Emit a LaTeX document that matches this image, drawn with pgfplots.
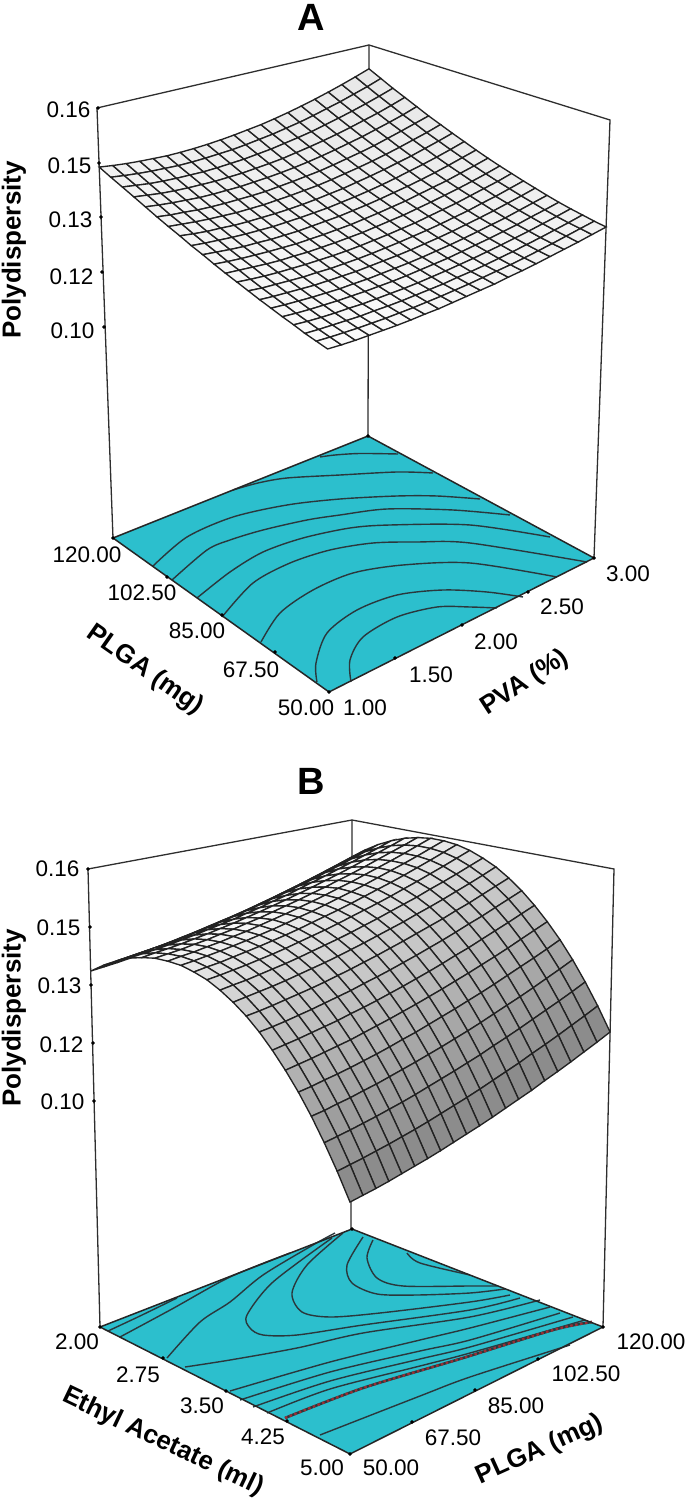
\documentclass[border=0pt]{standalone}
\usepackage{fontspec}
\setmainfont{Liberation Sans}
\usepackage{pgfplots}
\usepackage{pgfplotstable}
\pgfplotsset{compat=1.18}
\definecolor{basecyan}{HTML}{2CBFCD}
\definecolor{boxc}{HTML}{2E2E2E}
\definecolor{meshc}{HTML}{222222}
\definecolor{ctrc}{HTML}{2A383D}
\definecolor{redc}{HTML}{9A2F35}
% grid order: 21 rows of 21 values; row = PLGA 120 ... 50, column = second factor low ... high
\pgfplotstableread[row sep=\\]{pdi\\
.1442\\.1437\\.1433\\.1430\\.1428\\.1426\\.1426\\.1427\\.1429\\.1432\\.1436\\.1441\\.1446\\.1453\\.1461\\.1470\\.1480\\.1491\\.1503\\.1516\\.1530\\
.1429\\.1424\\.1420\\.1417\\.1415\\.1413\\.1413\\.1414\\.1416\\.1418\\.1422\\.1427\\.1432\\.1439\\.1446\\.1455\\.1465\\.1475\\.1487\\.1499\\.1513\\
.1417\\.1412\\.1407\\.1404\\.1402\\.1401\\.1400\\.1401\\.1403\\.1405\\.1409\\.1413\\.1419\\.1425\\.1432\\.1441\\.1450\\.1460\\.1471\\.1483\\.1496\\
.1405\\.1400\\.1395\\.1392\\.1390\\.1389\\.1388\\.1389\\.1390\\.1393\\.1396\\.1400\\.1406\\.1412\\.1419\\.1427\\.1436\\.1446\\.1456\\.1468\\.1481\\
.1393\\.1388\\.1384\\.1381\\.1378\\.1377\\.1377\\.1377\\.1379\\.1381\\.1384\\.1388\\.1393\\.1399\\.1406\\.1414\\.1422\\.1432\\.1442\\.1453\\.1466\\
.1381\\.1376\\.1373\\.1369\\.1367\\.1366\\.1366\\.1366\\.1367\\.1370\\.1373\\.1377\\.1381\\.1387\\.1394\\.1401\\.1409\\.1419\\.1429\\.1440\\.1451\\
.1370\\.1366\\.1362\\.1359\\.1357\\.1355\\.1355\\.1355\\.1357\\.1359\\.1362\\.1365\\.1370\\.1376\\.1382\\.1389\\.1397\\.1406\\.1416\\.1426\\.1438\\
.1360\\.1355\\.1351\\.1349\\.1346\\.1345\\.1345\\.1345\\.1346\\.1348\\.1351\\.1355\\.1359\\.1365\\.1371\\.1378\\.1386\\.1394\\.1404\\.1414\\.1425\\
.1349\\.1345\\.1342\\.1339\\.1337\\.1336\\.1335\\.1336\\.1337\\.1339\\.1341\\.1345\\.1349\\.1354\\.1360\\.1367\\.1375\\.1383\\.1392\\.1402\\.1413\\
.1340\\.1336\\.1332\\.1329\\.1328\\.1326\\.1326\\.1326\\.1328\\.1330\\.1332\\.1336\\.1340\\.1345\\.1351\\.1357\\.1364\\.1372\\.1381\\.1391\\.1401\\
.1330\\.1326\\.1323\\.1321\\.1319\\.1318\\.1317\\.1318\\.1319\\.1321\\.1323\\.1327\\.1331\\.1336\\.1341\\.1348\\.1355\\.1362\\.1371\\.1380\\.1390\\
.1321\\.1318\\.1315\\.1312\\.1310\\.1310\\.1309\\.1310\\.1311\\.1313\\.1315\\.1319\\.1323\\.1327\\.1333\\.1339\\.1346\\.1353\\.1361\\.1370\\.1380\\
.1313\\.1309\\.1306\\.1304\\.1303\\.1302\\.1302\\.1302\\.1303\\.1305\\.1308\\.1311\\.1315\\.1319\\.1325\\.1331\\.1337\\.1345\\.1353\\.1361\\.1371\\
.1305\\.1301\\.1299\\.1297\\.1295\\.1295\\.1294\\.1295\\.1296\\.1298\\.1301\\.1304\\.1308\\.1312\\.1317\\.1323\\.1329\\.1337\\.1344\\.1353\\.1362\\
.1297\\.1294\\.1292\\.1290\\.1288\\.1288\\.1288\\.1288\\.1290\\.1292\\.1294\\.1297\\.1301\\.1305\\.1310\\.1316\\.1322\\.1329\\.1337\\.1345\\.1354\\
.1290\\.1287\\.1285\\.1283\\.1282\\.1281\\.1282\\.1282\\.1284\\.1286\\.1288\\.1291\\.1295\\.1299\\.1304\\.1310\\.1316\\.1322\\.1330\\.1338\\.1346\\
.1283\\.1280\\.1278\\.1277\\.1276\\.1276\\.1276\\.1277\\.1278\\.1280\\.1283\\.1286\\.1289\\.1294\\.1299\\.1304\\.1310\\.1316\\.1324\\.1331\\.1339\\
.1277\\.1274\\.1272\\.1271\\.1271\\.1270\\.1271\\.1272\\.1273\\.1275\\.1278\\.1281\\.1285\\.1289\\.1294\\.1299\\.1305\\.1311\\.1318\\.1325\\.1333\\
.1270\\.1268\\.1267\\.1266\\.1265\\.1266\\.1266\\.1267\\.1269\\.1271\\.1273\\.1277\\.1280\\.1284\\.1289\\.1294\\.1300\\.1306\\.1313\\.1320\\.1328\\
.1265\\.1263\\.1262\\.1261\\.1261\\.1261\\.1262\\.1263\\.1265\\.1267\\.1270\\.1273\\.1277\\.1281\\.1285\\.1290\\.1296\\.1302\\.1309\\.1316\\.1323\\
.1260\\.1258\\.1257\\.1257\\.1257\\.1257\\.1258\\.1260\\.1261\\.1264\\.1267\\.1270\\.1273\\.1278\\.1282\\.1287\\.1293\\.1299\\.1305\\.1312\\.1319\\
}\tabA
\pgfplotstableread[row sep=\\]{pdi\\
.1494\\.1521\\.1544\\.1562\\.1576\\.1585\\.1590\\.1590\\.1586\\.1577\\.1563\\.1546\\.1523\\.1496\\.1464\\.1428\\.1388\\.1343\\.1293\\.1239\\.1180\\
.1481\\.1508\\.1531\\.1549\\.1563\\.1572\\.1577\\.1577\\.1573\\.1564\\.1550\\.1532\\.1510\\.1483\\.1451\\.1415\\.1374\\.1329\\.1279\\.1225\\.1166\\
.1469\\.1496\\.1519\\.1537\\.1551\\.1560\\.1564\\.1564\\.1560\\.1551\\.1537\\.1519\\.1497\\.1470\\.1438\\.1402\\.1361\\.1316\\.1266\\.1212\\.1153\\
.1457\\.1484\\.1507\\.1525\\.1539\\.1548\\.1552\\.1552\\.1548\\.1539\\.1525\\.1507\\.1484\\.1457\\.1426\\.1389\\.1349\\.1303\\.1254\\.1199\\.1140\\
.1446\\.1473\\.1496\\.1514\\.1527\\.1536\\.1541\\.1541\\.1536\\.1527\\.1514\\.1495\\.1473\\.1446\\.1414\\.1377\\.1337\\.1291\\.1242\\.1187\\.1128\\
.1435\\.1462\\.1485\\.1503\\.1516\\.1525\\.1530\\.1530\\.1525\\.1516\\.1502\\.1484\\.1461\\.1434\\.1402\\.1366\\.1325\\.1280\\.1230\\.1176\\.1117\\
.1425\\.1452\\.1475\\.1493\\.1506\\.1515\\.1519\\.1519\\.1515\\.1505\\.1492\\.1474\\.1451\\.1423\\.1392\\.1355\\.1314\\.1269\\.1219\\.1164\\.1105\\
.1415\\.1442\\.1465\\.1483\\.1496\\.1505\\.1510\\.1509\\.1505\\.1495\\.1482\\.1463\\.1441\\.1413\\.1381\\.1345\\.1304\\.1258\\.1209\\.1154\\.1095\\
.1406\\.1433\\.1456\\.1473\\.1487\\.1496\\.1500\\.1500\\.1495\\.1486\\.1472\\.1454\\.1431\\.1403\\.1371\\.1335\\.1294\\.1248\\.1198\\.1144\\.1085\\
.1398\\.1424\\.1447\\.1465\\.1478\\.1487\\.1491\\.1491\\.1486\\.1477\\.1463\\.1445\\.1422\\.1394\\.1362\\.1326\\.1285\\.1239\\.1189\\.1134\\.1075\\
.1389\\.1416\\.1439\\.1456\\.1470\\.1479\\.1483\\.1482\\.1478\\.1468\\.1454\\.1436\\.1413\\.1385\\.1353\\.1317\\.1276\\.1230\\.1180\\.1125\\.1066\\
.1382\\.1409\\.1431\\.1449\\.1462\\.1471\\.1475\\.1475\\.1470\\.1460\\.1446\\.1428\\.1405\\.1377\\.1345\\.1309\\.1267\\.1222\\.1172\\.1117\\.1058\\
.1375\\.1402\\.1424\\.1441\\.1455\\.1463\\.1468\\.1467\\.1462\\.1453\\.1439\\.1420\\.1397\\.1370\\.1337\\.1301\\.1260\\.1214\\.1164\\.1109\\.1050\\
.1368\\.1395\\.1417\\.1435\\.1448\\.1457\\.1461\\.1460\\.1455\\.1446\\.1432\\.1413\\.1390\\.1362\\.1330\\.1294\\.1252\\.1207\\.1156\\.1101\\.1042\\
.1362\\.1389\\.1411\\.1429\\.1442\\.1450\\.1454\\.1454\\.1449\\.1439\\.1425\\.1407\\.1383\\.1356\\.1324\\.1287\\.1245\\.1200\\.1149\\.1094\\.1035\\
.1357\\.1383\\.1405\\.1423\\.1436\\.1445\\.1449\\.1448\\.1443\\.1433\\.1419\\.1401\\.1377\\.1350\\.1317\\.1280\\.1239\\.1193\\.1143\\.1088\\.1029\\
.1352\\.1378\\.1400\\.1418\\.1431\\.1439\\.1443\\.1443\\.1438\\.1428\\.1414\\.1395\\.1372\\.1344\\.1312\\.1275\\.1233\\.1188\\.1137\\.1082\\.1023\\
.1347\\.1374\\.1396\\.1413\\.1426\\.1435\\.1439\\.1438\\.1433\\.1423\\.1409\\.1390\\.1367\\.1339\\.1307\\.1270\\.1228\\.1182\\.1132\\.1077\\.1017\\
.1343\\.1370\\.1392\\.1409\\.1422\\.1430\\.1434\\.1434\\.1428\\.1419\\.1404\\.1386\\.1362\\.1334\\.1302\\.1265\\.1224\\.1178\\.1127\\.1072\\.1012\\
.1340\\.1366\\.1388\\.1406\\.1419\\.1427\\.1431\\.1430\\.1425\\.1415\\.1401\\.1382\\.1358\\.1330\\.1298\\.1261\\.1219\\.1173\\.1123\\.1068\\.1008\\
.1337\\.1363\\.1385\\.1403\\.1415\\.1424\\.1427\\.1427\\.1421\\.1412\\.1397\\.1378\\.1355\\.1327\\.1294\\.1257\\.1216\\.1170\\.1119\\.1064\\.1004\\
}\tabB
% position inside the cube, from the table: P = PLGA, Q = second factor, W = polydispersity
\newcommand\cI{floor((\coordindex+0.5)/21)}
\newcommand\cJ{(\coordindex-21*\cI)}
\newcommand\cP{((20-\cI)/20)}
\newcommand\cQ{(\cJ/20)}
\newcommand\cube[9]{((1-#9)*((1-\cP)*(1-\cQ)*#1+\cP*(1-\cQ)*#2+(1-\cP)*\cQ*#3+\cP*\cQ*#4)+#9*((1-\cP)*(1-\cQ)*#5+\cP*(1-\cQ)*#6+(1-\cP)*\cQ*#7+\cP*\cQ*#8))}
\newcommand\wA{((\thisrow{pdi}-0.045)/0.115)}
\newcommand\wB{((\thisrow{pdi}-0.042)/0.118)}
\newcommand\tfs{\fontsize{22.5}{24}\selectfont}
\newcommand\bfs{\fontsize{26}{28}\selectfont\bfseries}
\newcommand\ttl{\fontsize{38}{40}\selectfont\bfseries}
\pgfplotsset{
  panel/.style={hide axis,scale only axis,width=685pt,xmin=0,xmax=685,y dir=reverse,clip=false,anchor=south west},
  box/.style={no markers,color=boxc,line width=1.3pt,forget plot},
  edge/.style={no markers,color=black!85,line width=1.5pt,forget plot},
  ctr/.style={no markers,smooth,color=ctrc,line width=1.4pt,forget plot},
  tk/.style={only marks,mark=*,mark size=1.7pt,color=black,forget plot},
  mesh surf/.style={surf,shader=faceted,faceted color=meshc,line width=1.35pt,mesh/rows=21,mesh/cols=21,z buffer=none,forget plot},
}
\begin{document}
\begin{tikzpicture}[x=1pt,y=1pt]
\path[use as bounding box] (0,0) rectangle (685pt,1502pt);
% ---------- A ----------
\begin{axis}[panel,at={(0pt,752pt)},height=750pt,ymin=0,ymax=750,
  colormap={ga}{gray(0cm)=(0.985); gray(40cm)=(0.91)},point meta min=0,point meta max=40]
\addplot[box] coordinates {(113,538) (97,108) (369,45) (610,120) (594,558)};
\addplot[box] coordinates {(369,45) (368,436)};
\addplot[fill=basecyan,draw=none,forget plot] coordinates {(113,538) (368,436) (594,558) (329,692)} -- cycle;
\addplot[ctr] coordinates {(320,457) (335,455) (360,453.5) (398,454)};
\addplot[ctr] coordinates {(233,490) (258,483) (287,478) (340,475) (397,472) (433,473)};
\addplot[ctr] coordinates {(153,566) (187,537) (233,517) (287,505) (340,499) (397,496) (437,496) (480,499)};
\addplot[ctr] coordinates {(172,580) (207,550) (230,540) (263,530) (307,520) (340,515) (387,509) (453,510) (510,515)};
\addplot[ctr] coordinates {(197,598) (230,572) (263,552) (303,538) (350,528) (390,525) (470,525) (550,537)};
\addplot[ctr] coordinates {(222,617) (253,583) (290,563) (330,550) (373,543) (417,542) (470,543) (587,562)};
\addplot[ctr] coordinates {(261,642) (280,613) (313,590) (353,573) (403,565) (470,563) (557,577)};
\addplot[ctr] coordinates {(317,682) (316,663) (327,633) (357,610) (397,595) (443,590) (487,592) (523,597)};
\addplot[ctr] coordinates {(351,682) (350,660) (363,637) (397,617) (437,607) (470,607) (497,608)};
\addplot[edge] coordinates {(113,538) (368,436) (594,558) (329,692) (113,538)};
\addplot[tk] coordinates {(98,108) (99,163) (101,217) (102,272) (104,327) (113,538) (167,577) (222,615) (275,652) (329,692) (395,658) (462,625) (528,592) (594,558) (368,436)};
\addplot[mesh surf,point meta={\cI*(-1)+20+\cJ}] table[x index=0,y index=0,
  x expr={\cube{329}{113}{594}{368}{327}{97}{610}{369}{\wA}},
  y expr={\cube{692}{538}{558}{436}{205}{108}{120}{45}{\wA}}] {\tabA};
\node[font=\ttl] at (axis cs:311,17) {A};
\node[font=\bfs,rotate=90] at (axis cs:14,250) {Polydispersity};
\node[font=\tfs,anchor=east] at (axis cs:94,110) {0.16};
\node[font=\tfs,anchor=east] at (axis cs:95,166) {0.15};
\node[font=\tfs,anchor=east] at (axis cs:96,220) {0.13};
\node[font=\tfs,anchor=east] at (axis cs:97,277) {0.12};
\node[font=\tfs,anchor=east] at (axis cs:98,331) {0.10};
\node[font=\tfs] at (axis cs:87,555) {120.00};
\node[font=\tfs] at (axis cs:142,593) {102.50};
\node[font=\tfs] at (axis cs:197,631) {85.00};
\node[font=\tfs] at (axis cs:251,670) {67.50};
\node[font=\tfs] at (axis cs:306,708) {50.00};
\node[font=\tfs] at (axis cs:365,708) {1.00};
\node[font=\tfs] at (axis cs:431,675) {1.50};
\node[font=\tfs] at (axis cs:496,642) {2.00};
\node[font=\tfs] at (axis cs:562,607) {2.50};
\node[font=\tfs] at (axis cs:628,574) {3.00};
\node[font=\bfs,rotate=-35] at (axis cs:145,670) {PLGA (mg)};
\node[font=\bfs,rotate=33] at (axis cs:525,683) {PVA (\%)};
\end{axis}
% ---------- B ----------
\begin{axis}[panel,at={(0pt,0pt)},height=752pt,ymin=750,ymax=1502,
  colormap={gb}{gray(0cm)=(0.98); gray(5cm)=(0.97); gray(10cm)=(0.85); gray(15cm)=(0.71); gray(20cm)=(0.53)},point meta min=0,point meta max=20]
\addplot[box] coordinates {(100,1327) (88,869) (352,820) (614,869) (603,1327)};
\addplot[box] coordinates {(352,820) (351,1229)};
\addplot[fill=basecyan,draw=none,forget plot] coordinates {(100,1327) (352,1229) (603,1327) (350,1454)} -- cycle;
\addplot[ctr] coordinates {(108,1331) (140,1316) (177,1298)};
\addplot[ctr] coordinates {(120,1337) (172,1309) (230,1277) (290,1253)};
\addplot[ctr] coordinates {(167,1358) (200,1322) (230,1302) (263,1275) (313,1245) (335,1233)};
\addplot[ctr] coordinates {(332,1238) (273,1282) (247,1315) (250,1328) (263,1335) (297,1335) (363,1325) (470,1310) (520,1298)};
\addplot[ctr] coordinates {(343,1233) (307,1265) (292,1293) (302,1312) (330,1317) (380,1313) (470,1302) (510,1295)};
\addplot[ctr] coordinates {(185,1367) (230,1360) (297,1348) (363,1333) (470,1317) (540,1300)};
\addplot[ctr] coordinates {(363,1237) (347,1265) (352,1283) (377,1294) (417,1295) (470,1293) (505,1289)};
\addplot[ctr] coordinates {(373,1240) (367,1258) (377,1278) (403,1286) (470,1286) (497,1286)};
\addplot[ctr] coordinates {(407,1253) (420,1263) (470,1275)};
\addplot[ctr] coordinates {(230,1391) (330,1362) (420,1340) (470,1328) (550,1307)};
\addplot[ctr] coordinates {(240,1400) (330,1372) (420,1351) (470,1340) (560,1313)};
\addplot[ctr] coordinates {(253,1407) (330,1381) (420,1359) (470,1347) (573,1317)};
\addplot[ctr] coordinates {(267,1413) (330,1389) (420,1366) (470,1353) (585,1320)};
\addplot[ctr,line width=2.6pt] coordinates {(285,1418) (363,1388) (463,1358) (553,1330) (592,1322)};
\addplot[ctr,color=redc,dash pattern=on 2.5pt off 2.5pt,line width=2.4pt] coordinates {(285,1418) (363,1388) (463,1358) (553,1330) (592,1322)};
\addplot[ctr] coordinates {(320,1435) (420,1396) (470,1377) (570,1345)};
\addplot[edge] coordinates {(100,1327) (352,1229) (603,1327) (350,1454) (100,1327)};
\addplot[tk] coordinates {(88,869) (90,927) (91,985) (93,1043) (94,1101) (100,1327) (163,1358) (226,1391) (287,1421) (350,1454) (412,1422) (475,1390) (538,1359) (603,1327) (352,1229)};
\addplot[mesh surf,point meta={\cJ}] table[x index=0,y index=0,
  x expr={\cube{100}{352}{350}{603}{88}{352}{350}{614}{\wB}},
  y expr={\cube{1327}{1229}{1454}{1327}{869}{820}{945}{869}{\wB}}] {\tabB};
\node[font=\ttl] at (axis cs:311,781) {B};
\node[font=\bfs,rotate=90] at (axis cs:14,1018) {Polydispersity};
\node[font=\tfs,anchor=east] at (axis cs:83,869) {0.16};
\node[font=\tfs,anchor=east] at (axis cs:84,928) {0.15};
\node[font=\tfs,anchor=east] at (axis cs:85,986) {0.13};
\node[font=\tfs,anchor=east] at (axis cs:87,1045) {0.12};
\node[font=\tfs,anchor=east] at (axis cs:88,1102) {0.10};
\node[font=\tfs] at (axis cs:77,1342) {2.00};
\node[font=\tfs] at (axis cs:138,1375) {2.75};
\node[font=\tfs] at (axis cs:202,1406) {3.50};
\node[font=\tfs] at (axis cs:263,1437) {4.25};
\node[font=\tfs] at (axis cs:322,1468) {5.00};
\node[font=\tfs] at (axis cs:391,1468) {50.00};
\node[font=\tfs] at (axis cs:453,1438) {67.50};
\node[font=\tfs] at (axis cs:516,1406) {85.00};
\node[font=\tfs] at (axis cs:586,1374) {102.50};
\node[font=\tfs] at (axis cs:651,1342) {120.00};
\node[font=\bfs,rotate=-25.5] at (axis cs:163,1442) {Ethyl Acetate (ml)};
\node[font=\bfs,rotate=24.4] at (axis cs:540,1450) {PLGA (mg)};
\end{axis}
\end{tikzpicture}
\end{document}
